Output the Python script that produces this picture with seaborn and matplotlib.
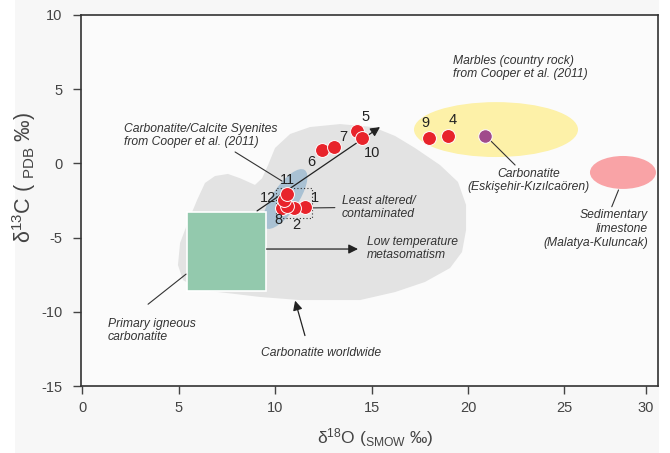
import numpy as np
import pandas as pd
import matplotlib
matplotlib.use("Agg")
import matplotlib.pyplot as plt
import matplotlib.patches as mpatches
import matplotlib.transforms as mtransforms
import seaborn as sns

# ---------------- data ----------------
sample_labels = ['1', '2', '3', '4', '5', '6', '7', '8', '9', '10', '11', '12']
d18O = [11.55, 11.0, 10.6, 18.96, 14.25, 12.44, 13.06, 10.36, 17.98, 14.5, 10.64, 10.48]
d13C = [-2.92, -2.99, -2.85, 1.84, 2.18, 0.90, 1.10, -2.99, 1.70, 1.71, -2.08, -2.47]
draw_order = ['1', '2', '8', '3', '12', '11', '4', '9', '6', '7', '5', '10']
show_label = [True, True, False, True, True, True, True, True, True, True, True, True]

kiz_d18O = [20.88]
kiz_d13C = [1.84]

# Carbonatite worldwide field outline
world_x = [4.97, 5.08, 5.49, 5.96, 6.37, 6.89, 7.56, 8.19, 8.96, 9.33, 9.64, 10.0,
           10.78, 11.81, 13.37, 15.08, 16.22, 17.25, 18.55, 19.48, 19.90, 19.90,
           19.69, 19.07, 17.77, 16.22, 14.40, 11.30, 9.22, 7.93, 6.11, 5.23]
world_y = [-6.85, -5.36, -3.95, -2.47, -1.32, -0.85, -0.71, -1.0, -1.45, -1.0, -0.11, 1.04,
           1.98, 2.45, 2.65, 2.45, 1.85, 1.04, -0.11, -1.25, -2.80, -4.48,
           -5.97, -7.05, -7.99, -8.67, -9.21, -9.21, -9.0, -8.8, -8.53, -7.86]

# Primary igneous carbonatite box (x range, y range)
pic_x = [5.42, 9.53]
pic_y = [-8.62, -3.30]
# Marbles field (centre, width, height)
marble_c = [21.45, 2.28]
marble_wh = [8.5, 3.7]
# Sedimentary limestone field
sed_c = [28.03, -0.61]
sed_wh = [3.42, 2.22]
# Carbonatite / calcite syenites field centre
syen_c = [10.52, -2.40]
# Least altered box
least_x = [10.05, 11.9]
least_y = [-3.70, -1.64]

x_ticks = [0, 5, 10, 15, 20, 25, 29.22]
x_ticklabels = ['0', '5', '10', '15', '20', '25', '30']
y_ticks = [-15, -10, -5, 0, 5, 10]
y_ticklabels = ['-15', '-10', '-5', '0', '5', '10']

# label offsets (pixels) for sample numbers
label_off = {'1': (10, 9), '2': (2, -17), '4': (5, 16), '5': (8, 14), '6': (-11, -12),
             '7': (9, 10), '8': (-4, -12), '9': (-4, 15), '10': (10, -15),
             '11': (0, 14), '12': (-16, 2)}

# ---------------- style ----------------
sns.set_theme(style="white")
plt.rcParams['font.family'] = ['Liberation Sans', 'DejaVu Sans']
plt.rcParams['mathtext.fontset'] = 'custom'
plt.rcParams['mathtext.rm'] = 'Liberation Sans'
plt.rcParams['mathtext.it'] = 'Liberation Sans:italic'

TXT = '#333333'
fig = plt.figure(figsize=(6.7, 4.53), dpi=100, facecolor='white')
bg = mpatches.Rectangle((15 / 670, 0), 644 / 670, 1, transform=fig.transFigure,
                        facecolor='#f7f7f7', edgecolor='none', zorder=-10)
fig.add_artist(bg)
ax = fig.add_axes([80.7 / 670, 67 / 453, 577 / 670, 371 / 453])
ax.set_zorder(1)
ax.set_facecolor('#fbfbfb')
ax.set_xlim(-0.07, 29.83)
ax.set_ylim(-15, 10)

# worldwide field
ax.add_patch(mpatches.Polygon(np.column_stack([world_x, world_y]), closed=True,
                              facecolor='#e3e3e3', edgecolor='none', zorder=1))
# syenites ellipse (in pixel units around centre)
syen_tr = mtransforms.Affine2D() + mtransforms.ScaledTranslation(syen_c[0], syen_c[1], ax.transData)
ax.add_patch(mpatches.Ellipse((0, 0), 70, 26, angle=56, transform=syen_tr,
                              facecolor='#a9c1d3', edgecolor='none', zorder=2))
# marbles
ax.add_patch(mpatches.Ellipse(marble_c, marble_wh[0], marble_wh[1],
                              facecolor='#fdf1a8', edgecolor='none', zorder=1))
# sedimentary
ax.add_patch(mpatches.Ellipse(sed_c, sed_wh[0], sed_wh[1],
                              facecolor='#f9a3a6', edgecolor='none', zorder=1))
# primary igneous box
ax.add_patch(mpatches.Rectangle((pic_x[0], pic_y[0]), pic_x[1] - pic_x[0], pic_y[1] - pic_y[0],
                                facecolor='#93c9ad', edgecolor='white', lw=1.2, zorder=3))
# least altered dotted box
ax.add_patch(mpatches.Rectangle((least_x[0], least_y[0]), least_x[1] - least_x[0],
                                least_y[1] - least_y[0], facecolor='none', edgecolor='#333333',
                                lw=0.8, linestyle=(0, (1, 2)), zorder=4))

# arrows
aprops = dict(arrowstyle='-|>', mutation_scale=14, lw=0.9, color='#222222', shrinkA=0, shrinkB=0)
ax.annotate('', xy=(15.44, 2.45), xytext=(9.07, -3.2), arrowprops=aprops, zorder=6)
ax.annotate('', xy=(14.3, -5.77), xytext=(9.56, -5.77), arrowprops=aprops, zorder=6)
ax.annotate('', xy=(11.04, -9.25), xytext=(11.55, -11.6), arrowprops=aprops, zorder=6)

# leader lines
lines = [((3.42, 5.39), (-9.49, -7.46)), ((7.93, 10.36), (0.77, -1.19)),
         ((11.9, 13.1), (-3.0, -2.98)), ((21.14, 22.44), (1.57, -0.11)),
         ((27.8, 27.45), (-1.79, -2.92))]
for lx, ly in lines:
    ax.plot(lx, ly, color='#333333', lw=0.8, zorder=5)

# points
df = pd.DataFrame({'label': sample_labels, 'd18O': d18O, 'd13C': d13C, 'show': show_label})
df = df.set_index('label').loc[draw_order].reset_index()
sns.scatterplot(data=df, x='d18O', y='d13C', ax=ax, color='#e8232b', s=100,
                edgecolor='white', linewidth=0.7, zorder=7, legend=False)
sns.scatterplot(x=kiz_d18O, y=kiz_d13C, ax=ax, color='#a04b8b', s=95,
                edgecolor='white', linewidth=0.7, zorder=7, legend=False)
for _, r in df.iterrows():
    if r['show']:
        dx, dy = label_off[r['label']]
        ax.annotate(r['label'], (r['d18O'], r['d13C']), xytext=(dx, dy),
                    textcoords='offset pixels', ha='center', va='center',
                    fontsize=10.5, color='#222222', zorder=8)

# texts
tk = dict(fontsize=8.7, style='italic', color=TXT, zorder=8, va='center')
ax.text(19.21, 6.46, 'Marbles (country rock)\nfrom Cooper et al. (2011)', ha='left', **tk)
ax.text(23.16, -1.15, 'Carbonatite\n(Eskişehir-Kızılcaören)', ha='center', **tk)
ax.text(29.33, -4.42, 'Sedimentary\nlimestone\n(Malatya-Kuluncak)', ha='right', **tk)
ax.text(13.46, -2.97, 'Least altered/\ncontaminated', ha='left', **tk)
ax.text(14.77, -5.73, 'Low temperature\nmetasomatism', ha='left', **tk)
ax.text(1.35, -11.26, 'Primary igneous\ncarbonatite', ha='left', **tk)
ax.text(9.27, -12.78, 'Carbonatite worldwide', ha='left', **tk)
ax.text(2.18, 1.88, 'Carbonatite/Calcite Syenites\nfrom Cooper et al. (2011)', ha='left', **tk)

# axes styling
ax.set_xticks(x_ticks)
ax.set_xticklabels(x_ticklabels)
ax.set_yticks(y_ticks)
ax.set_yticklabels(y_ticklabels)
ax.tick_params(axis='both', direction='out', length=6, width=1.0, color='#444444',
               labelcolor='#444444', labelsize=10.5, bottom=True, left=True)
ax.tick_params(axis='x', pad=5)
ax.tick_params(axis='y', pad=7)
for sp in ax.spines.values():
    sp.set_color('#333333')
    sp.set_linewidth(1.2)
    sp.set_visible(True)

ax.set_xlabel('δ$^{18}$O ($_{\\mathrm{SMOW}}$ ‰)', fontsize=12.5, color='#444444')
ax.set_ylabel('δ$^{13}$C ( $_{\\mathrm{PDB}}$ ‰)', fontsize=15.5, color='#444444')
ax.xaxis.set_label_coords(0.51, -0.108)
ax.yaxis.set_label_coords(-0.074, 0.563)

fig.savefig('out.png', dpi=100, facecolor=fig.get_facecolor())
